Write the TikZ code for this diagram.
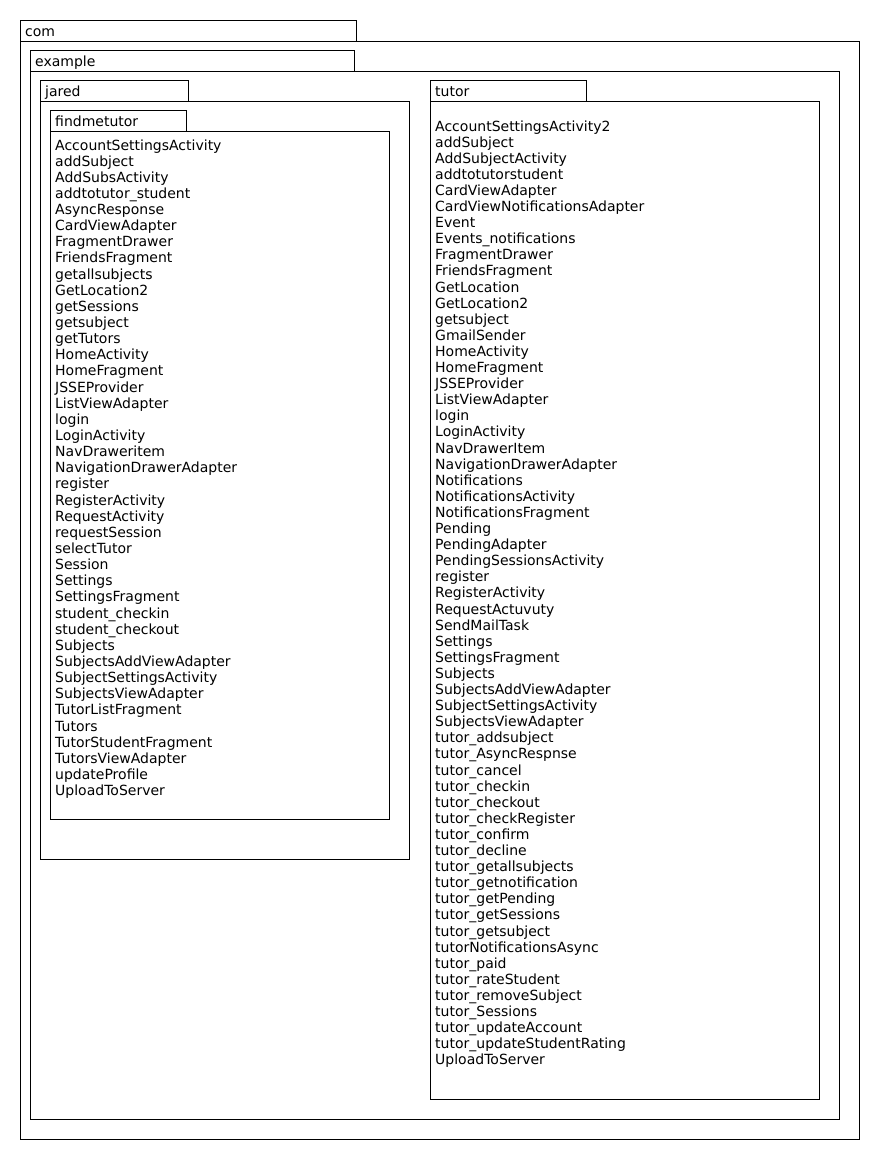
\documentclass[tikz,border=0pt]{standalone}
\usepackage{fontspec}
\setmainfont{DejaVu Sans}
\begin{document}
\begin{tikzpicture}[x=1pt,y=-1pt,
  box/.style={draw=black,line width=1pt},
  item/.style={anchor=base west,inner sep=0pt,font=\fontsize{14}{16}\selectfont},
  tablabel/.style={anchor=base west,inner sep=0pt,font=\fontsize{14}{16}\selectfont}]
\useasboundingbox[fill=white] (0,0) rectangle (880,1160);
% com
\draw[box] (20,20) rectangle (356,41);
\draw[box] (20,41) rectangle (859,1139);
\node[tablabel] (com) at (25,36) {com};
% example
\draw[box] (30,50) rectangle (354,71);
\draw[box] (30,71) rectangle (839,1119);
\node[tablabel] (example) at (35,66) {example};
% jared
\draw[box] (40,80) rectangle (188,101);
\draw[box] (40,101) rectangle (409,859);
\node[tablabel] (jared) at (45,96) {jared};
% findmetutor
\draw[box] (50,110) rectangle (186,131);
\draw[box] (50,131) rectangle (389,819);
\node[tablabel] (findmetutor) at (55,126) {findmetutor};
% tutor
\draw[box] (430,80) rectangle (586,101);
\draw[box] (430,101) rectangle (819,1099);
\node[tablabel] (tutor) at (435,96) {tutor};
% findmetutor classes
\foreach \t [count=\i from 0] in {AccountSettingsActivity,addSubject,AddSubsActivity,addtotutor\_student,AsyncResponse,CardViewAdapter,FragmentDrawer,FriendsFragment,getallsubjects,GetLocation2,getSessions,getsubject,getTutors,HomeActivity,HomeFragment,JSSEProvider,ListViewAdapter,login,LoginActivity,NavDraweritem,NavigationDrawerAdapter,register,RegisterActivity,RequestActivity,requestSession,selectTutor,Session,Settings,SettingsFragment,student\_checkin,student\_checkout,Subjects,SubjectsAddViewAdapter,SubjectSettingsActivity,SubjectsViewAdapter,TutorListFragment,Tutors,TutorStudentFragment,TutorsViewAdapter,updateProfile,UploadToServer}
  \node[item] (L\i) at (55,{150+16.14*\i}) {\t};
% tutor classes
\foreach \t [count=\i from 0] in {AccountSettingsActivity2,addSubject,AddSubjectActivity,addtotutorstudent,CardViewAdapter,CardViewNotificationsAdapter,Event,Events\_notifications,FragmentDrawer,FriendsFragment,GetLocation,GetLocation2,getsubject,GmailSender,HomeActivity,HomeFragment,JSSEProvider,ListViewAdapter,login,LoginActivity,NavDrawerItem,NavigationDrawerAdapter,Notifications,NotificationsActivity,NotificationsFragment,Pending,PendingAdapter,PendingSessionsActivity,register,RegisterActivity,RequestActuvuty,SendMailTask,Settings,SettingsFragment,Subjects,SubjectsAddViewAdapter,SubjectSettingsActivity,SubjectsViewAdapter,tutor\_addsubject,tutor\_AsyncRespnse,tutor\_cancel,tutor\_checkin,tutor\_checkout,tutor\_checkRegister,tutor\_confirm,tutor\_decline,tutor\_getallsubjects,tutor\_getnotification,tutor\_getPending,tutor\_getSessions,tutor\_getsubject,tutorNotificationsAsync,tutor\_paid,tutor\_rateStudent,tutor\_removeSubject,tutor\_Sessions,tutor\_updateAccount,tutor\_updateStudentRating,UploadToServer}
  \node[item] (R\i) at (435,{131+16.1*\i}) {\t};
\end{tikzpicture}
\end{document}
